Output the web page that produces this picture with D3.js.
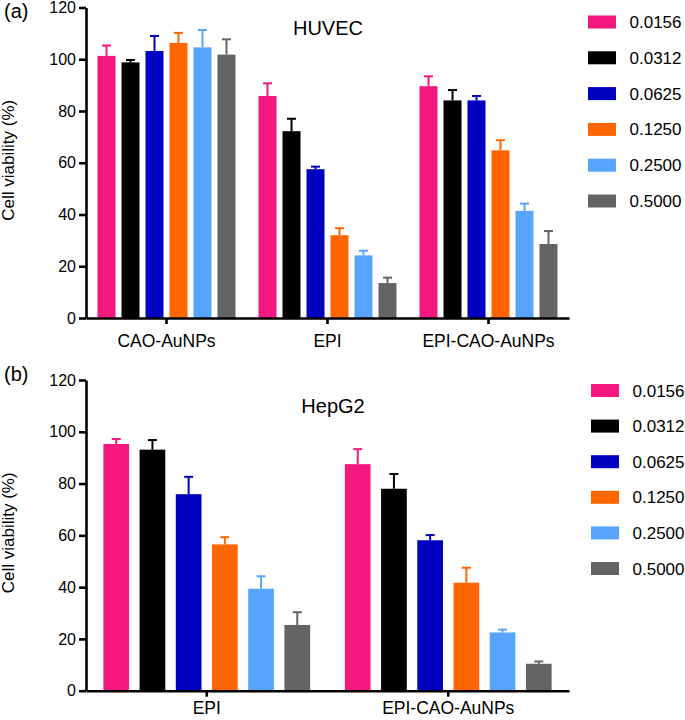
<!DOCTYPE html>
<html>
<head>
<meta charset="utf-8">
<script src="https://cdn.jsdelivr.net/npm/d3@7"></script>
<style>
  html, body { margin: 0; padding: 0; background: #fff; }
  svg { display: block; font-family: "Liberation Sans", Arial, sans-serif; }
</style>
</head>
<body>
<svg id="chart" width="685" height="720"></svg>
<script>
// ---- data ----
const concentrations = ["0.0156", "0.0312", "0.0625", "0.1250", "0.2500", "0.5000"];
const seriesColors = ["#F5187F", "#000000", "#0000C0", "#FF6600", "#58A5FF", "#646464"];
const yTicks = [0, 20, 40, 60, 80, 100, 120];

const huvecGroups = ["CAO-AuNPs", "EPI", "EPI-CAO-AuNPs"];
const huvecMean = [
  [101.3, 98.8, 103.2, 106.3, 104.6, 101.8],
  [85.8, 72.2, 57.5, 32.0, 24.2, 13.5],
  [89.6, 84.1, 84.1, 64.8, 41.4, 28.6]
];
const huvecErr = [
  [4.0, 0.9, 5.8, 3.9, 6.7, 5.9],
  [4.9, 4.8, 1.0, 2.7, 1.8, 2.1],
  [3.8, 4.0, 1.7, 3.9, 2.8, 5.0]
];

const hepg2Groups = ["EPI", "EPI-CAO-AuNPs"];
const hepg2Mean = [
  [95.3, 93.1, 75.9, 56.5, 39.4, 25.4],
  [87.5, 78.0, 58.1, 41.7, 22.5, 10.4]
];
const hepg2Err = [
  [1.9, 3.7, 6.7, 2.8, 4.8, 4.9],
  [5.8, 5.7, 2.0, 5.8, 1.1, 0.9]
];

const svg = d3.select("#chart");
const FONT = "'Liberation Sans', Arial, sans-serif";

function panel(opt) {
  const g = svg.append("g");
  const y = d3.scaleLinear().domain([0, 120]).range([opt.y0, opt.y1]);
  const x0 = d3.scaleBand().domain(opt.groups).range([86, 569]).padding(0);
  const x1 = d3.scaleBand().domain(concentrations).range([0, x0.bandwidth()])
    .paddingInner(opt.pin).paddingOuter(0.48);
  const color = d3.scaleOrdinal().domain(concentrations).range(seriesColors);

  const rows = [];
  opt.groups.forEach((grp, gi) => {
    concentrations.forEach((c, ci) => {
      rows.push({grp, c, v: opt.mean[gi][ci], e: opt.err[gi][ci]});
    });
  });

  // bars
  g.selectAll("rect.bar").data(rows).join("rect")
    .attr("class", "bar")
    .attr("x", d => x0(d.grp) + x1(d.c))
    .attr("width", x1.bandwidth())
    .attr("y", d => y(d.v))
    .attr("height", d => y(0) - y(d.v))
    .attr("fill", d => color(d.c));

  // error bars (upper only)
  const capW = 9;
  g.selectAll("line.err").data(rows).join("line")
    .attr("class", "err")
    .attr("x1", d => x0(d.grp) + x1(d.c) + x1.bandwidth() / 2)
    .attr("x2", d => x0(d.grp) + x1(d.c) + x1.bandwidth() / 2)
    .attr("y1", d => y(d.v))
    .attr("y2", d => y(d.v + d.e))
    .attr("stroke", d => color(d.c))
    .attr("stroke-width", 2);
  g.selectAll("line.cap").data(rows).join("line")
    .attr("class", "cap")
    .attr("x1", d => x0(d.grp) + x1(d.c) + x1.bandwidth() / 2 - capW / 2)
    .attr("x2", d => x0(d.grp) + x1(d.c) + x1.bandwidth() / 2 + capW / 2)
    .attr("y1", d => y(d.v + d.e))
    .attr("y2", d => y(d.v + d.e))
    .attr("stroke", d => color(d.c))
    .attr("stroke-width", 2);

  // y axis
  const ya = g.append("g").attr("transform", "translate(86,0)")
    .call(d3.axisLeft(y).tickValues(yTicks).tickSize(7).tickSizeOuter(0).tickPadding(3));
  ya.attr("font-family", FONT);
  ya.select(".domain").attr("stroke", "#000").attr("stroke-width", 2.6);
  ya.selectAll(".tick line").attr("stroke", "#000").attr("stroke-width", 2.6);
  ya.selectAll(".tick text").attr("font-size", 16).attr("fill", "#000");

  // x axis
  const xa = g.append("g").attr("transform", `translate(0,${opt.y0})`)
    .call(d3.axisBottom(x0).tickSize(6).tickSizeOuter(0).tickPadding(opt.xPad));
  xa.attr("font-family", FONT);
  xa.select(".domain").attr("stroke", "#000").attr("stroke-width", 2.6);
  xa.selectAll(".tick line").attr("stroke", "#000").attr("stroke-width", 2.6);
  xa.selectAll(".tick text").attr("font-size", 17.5).attr("fill", "#000");

  // y label
  g.append("text")
    .attr("transform", `translate(14,${(opt.y0 + opt.y1) / 2 - 2.5}) rotate(-90)`)
    .attr("text-anchor", "middle")
    .attr("font-size", 17)
    .text("Cell viability (%)");

  // panel letter
  g.append("text").attr("x", 4).attr("y", opt.letterY)
    .attr("font-size", 20).text(opt.letter);

  // title
  g.append("text").attr("x", opt.titleX).attr("y", opt.titleY)
    .attr("text-anchor", "middle").attr("font-size", 20).text(opt.title);

  // legend
  const lg = g.append("g");
  concentrations.forEach((c, i) => {
    const cy = opt.legY + i * opt.legStep;
    lg.append("rect").attr("x", opt.legX).attr("y", cy - 6.5)
      .attr("width", 28).attr("height", 13).attr("fill", color(c));
    lg.append("text").attr("x", opt.legX + 41.5).attr("y", cy + 6)
      .attr("font-size", 17).text(c);
  });
}

panel({
  groups: huvecGroups, mean: huvecMean, err: huvecErr,
  y0: 318, y1: 7.5, pin: 0.25, xPad: 11,
  letter: "(a)", letterY: 18,
  title: "HUVEC", titleX: 328, titleY: 35,
  legX: 588, legY: 22, legStep: 35.8
});

panel({
  groups: hepg2Groups, mean: hepg2Mean, err: hepg2Err,
  y0: 690.7, y1: 380, pin: 0.29, xPad: 5,
  letter: "(b)", letterY: 381,
  title: "HepG2", titleX: 333, titleY: 413,
  legX: 591, legY: 390.5, legStep: 35.6
});
</script>
</body>
</html>
